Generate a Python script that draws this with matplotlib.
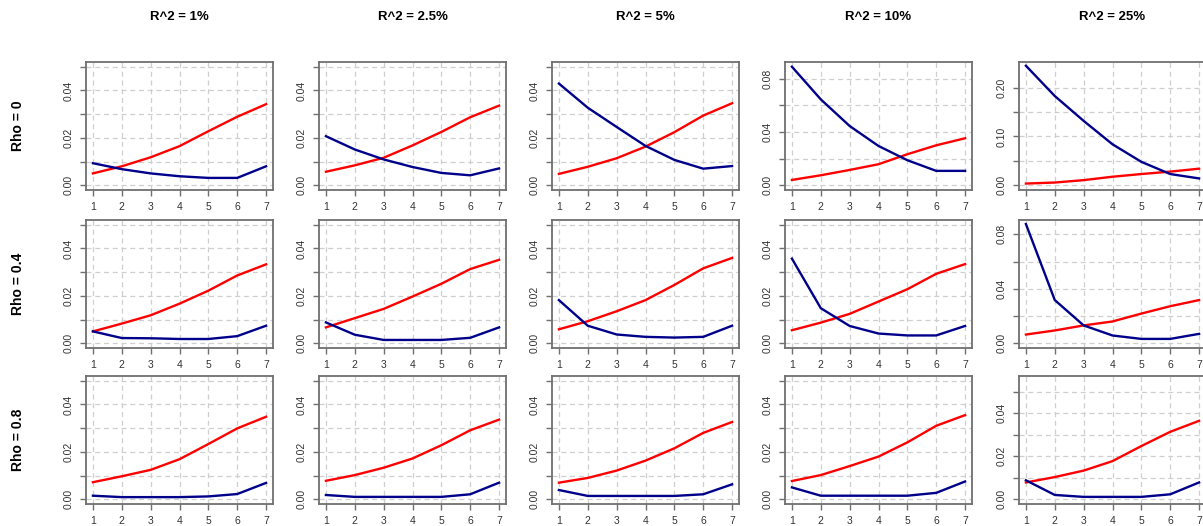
import matplotlib
matplotlib.use("Agg")
import matplotlib.pyplot as plt

plt.rcParams['font.family'] = ['Liberation Sans', 'DejaVu Sans']

x = [1, 2, 3, 4, 5, 6, 7]
col_titles = ['R^2 = 1%', 'R^2 = 2.5%', 'R^2 = 5%', 'R^2 = 10%', 'R^2 = 25%']
row_titles = ['Rho = 0', 'Rho = 0.4', 'Rho = 0.8']

# rote Kurven: je Zeile (Rho) eine Liste pro R^2-Spalte
red_rho0 = [
    [0.0050, 0.0080, 0.0118, 0.0165, 0.0228, 0.0289, 0.0342],
    [0.0057, 0.0084, 0.0116, 0.0168, 0.0225, 0.0287, 0.0336],
    [0.0048, 0.0078, 0.0114, 0.0163, 0.0224, 0.0294, 0.0346],
    [0.0040, 0.0075, 0.0115, 0.0158, 0.0233, 0.0300, 0.0353],
    [0.0035, 0.0056, 0.0105, 0.0175, 0.0230, 0.0280, 0.0340],
]
red_rho04 = [
    [0.0050, 0.0083, 0.0118, 0.0167, 0.0222, 0.0286, 0.0333],
    [0.0067, 0.0106, 0.0145, 0.0197, 0.0251, 0.0313, 0.0352],
    [0.0059, 0.0093, 0.0135, 0.0182, 0.0246, 0.0316, 0.0360],
    [0.0055, 0.0087, 0.0124, 0.0176, 0.0228, 0.0293, 0.0334],
    [0.0064, 0.0094, 0.0131, 0.0160, 0.0218, 0.0272, 0.0317],
]
red_rho08 = [
    [0.0072, 0.0097, 0.0124, 0.0169, 0.0233, 0.0299, 0.0348],
    [0.0078, 0.0102, 0.0133, 0.0172, 0.0228, 0.0291, 0.0336],
    [0.0070, 0.0090, 0.0121, 0.0163, 0.0215, 0.0280, 0.0326],
    [0.0077, 0.0102, 0.0140, 0.0180, 0.0240, 0.0310, 0.0355],
    [0.0078, 0.0103, 0.0133, 0.0177, 0.0247, 0.0313, 0.0364],
]

# blaue Kurven
blue_rho0 = [
    [0.0093, 0.0068, 0.0050, 0.0038, 0.0031, 0.0031, 0.0080],
    [0.0207, 0.0151, 0.0109, 0.0077, 0.0052, 0.0042, 0.0071],
    [0.0429, 0.0327, 0.0246, 0.0166, 0.0107, 0.0070, 0.0081],
    [0.0890, 0.0645, 0.0445, 0.0295, 0.0188, 0.0108, 0.0108],
    [0.2450, 0.1830, 0.1320, 0.0840, 0.0480, 0.0230, 0.0140],
]
blue_rho04 = [
    [0.0050, 0.0022, 0.0021, 0.0018, 0.0018, 0.0030, 0.0074],
    [0.0088, 0.0036, 0.0014, 0.0014, 0.0014, 0.0023, 0.0067],
    [0.0182, 0.0074, 0.0037, 0.0027, 0.0024, 0.0027, 0.0074],
    [0.0357, 0.0148, 0.0073, 0.0041, 0.0033, 0.0033, 0.0073],
    [0.0875, 0.0317, 0.0131, 0.0057, 0.0032, 0.0032, 0.0069],
]
blue_rho08 = [
    [0.0015, 0.0009, 0.0009, 0.0009, 0.0012, 0.0022, 0.0069],
    [0.0018, 0.0010, 0.0010, 0.0010, 0.0010, 0.0021, 0.0070],
    [0.0039, 0.0014, 0.0014, 0.0014, 0.0014, 0.0021, 0.0063],
    [0.0050, 0.0015, 0.0015, 0.0015, 0.0015, 0.0027, 0.0075],
    [0.0088, 0.0020, 0.0011, 0.0011, 0.0011, 0.0023, 0.0078],
]

red_all = [red_rho0, red_rho04, red_rho08]
blue_all = [blue_rho0, blue_rho04, blue_rho08]

# y-Achsen: obere Grenze, Tickabstand (jeder zweite Tick beschriftet)
ymax = [[0.05, 0.05, 0.05, 0.089, 0.243],
        [0.05, 0.05, 0.05, 0.05, 0.087],
        [0.05, 0.05, 0.05, 0.05, 0.055]]
ystep = [[0.01, 0.01, 0.01, 0.02, 0.05],
         [0.01, 0.01, 0.01, 0.01, 0.02],
         [0.01, 0.01, 0.01, 0.01, 0.01]]

W, H = 1203, 526
fig = plt.figure(figsize=(W / 100, H / 100), dpi=100)

lefts = [86, 319, 552, 785, 1019]
tops = [62, 220, 376]
pw, ph = 187, 128

for r in range(3):
    for c in range(5):
        l, t = lefts[c], tops[r]
        ax = fig.add_axes([l / W, 1 - (t + ph) / H, pw / W, ph / H])
        ax.plot(x, red_all[r][c], color='#ff0000', lw=1.7, zorder=3)
        ax.plot(x, blue_all[r][c], color='#00008b', lw=1.7, zorder=3)

        top = ymax[r][c]
        ax.set_xlim(1 - 0.24, 7 + 0.24)
        ax.set_ylim(-0.04 * top, top * 1.04)

        # Ticks wie bei R: nur jeder zweite beschriftet
        st = ystep[r][c]
        n = int(top / st + 1e-9)
        yt = [i * st for i in range(n + 1)]
        labs = ['%.2f' % v if i % 2 == 0 else '' for i, v in enumerate(yt)]
        ax.set_yticks(yt)
        ax.set_yticklabels(labs, rotation=90, va='center')
        ax.set_xticks(x)
        ax.set_xticklabels([str(v) for v in x])

        ax.grid(True, color='#cfcfcf', linestyle=(0, (4, 3)), linewidth=0.9)
        ax.set_axisbelow(True)
        for sp in ax.spines.values():
            sp.set_color('#707070')
            sp.set_linewidth(1.3)
        ax.tick_params(axis='both', direction='out', length=4, width=1,
                       color='#707070', labelsize=7.5, labelcolor='#333333')
        ax.tick_params(axis='y', pad=5)
        ax.tick_params(axis='x', pad=5)

        if r == 0:
            fig.text((l + pw / 2) / W, 1 - 17 / H, col_titles[c], ha='center',
                     va='center', fontsize=9.5, fontweight='bold')
    fig.text(18 / W, 1 - (tops[r] + ph / 2) / H, row_titles[r], rotation=90,
             ha='center', va='center', fontsize=10, fontweight='bold')

fig.savefig('out.png', dpi=100)
